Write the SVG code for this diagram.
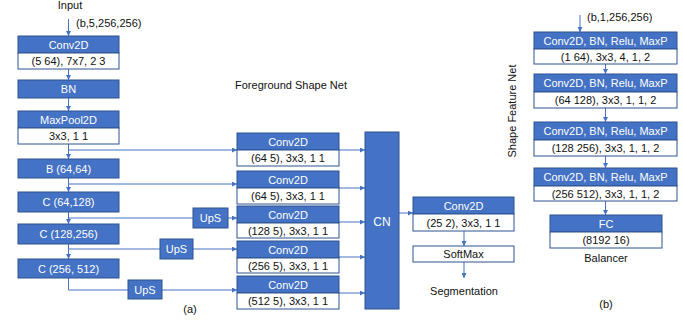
<svg xmlns="http://www.w3.org/2000/svg" width="683" height="321" viewBox="0 0 683 321">
<style>
text{font-family:"Liberation Sans",Arial,sans-serif;font-size:11px;text-anchor:middle}
.h{fill:#4472C4;stroke:#2F528F;stroke-width:1}
.w{fill:#fff;stroke:#2F528F;stroke-width:1}
.ht{fill:#fff}
.bt{fill:#111}
.c{fill:none;stroke:#4472C4;stroke-width:1}
</style>
<defs>
<marker id="a" viewBox="0 0 6 6" refX="6" refY="3" markerWidth="5" markerHeight="5" orient="auto" markerUnits="userSpaceOnUse">
<path d="M0,0 L6,3 L0,6 z" fill="#4472C4"/>
</marker>
</defs>
<rect width="683" height="321" fill="#fff"/>
<g id="connectors">
<path class="c" d="M68.5,19 V36" marker-end="url(#a)"/>
<path class="c" d="M68.5,69 V80" marker-end="url(#a)"/>
<path class="c" d="M68.5,98 V111" marker-end="url(#a)"/>
<path class="c" d="M68.5,144 V159" marker-end="url(#a)"/>
<path class="c" d="M68.5,178 V192" marker-end="url(#a)"/>
<path class="c" d="M68.5,212 V224" marker-end="url(#a)"/>
<path class="c" d="M68.5,244 V259" marker-end="url(#a)"/>
<path class="c" d="M68.5,278 V290 H128"/>
<path class="c" d="M68.5,150 H237" marker-end="url(#a)"/>
<path class="c" d="M68.5,184 H237" marker-end="url(#a)"/>
<path class="c" d="M68.5,218 H193"/>
<path class="c" d="M68.5,249 H160"/>
<path class="c" d="M228,218 H237" marker-end="url(#a)"/>
<path class="c" d="M193,249 H237" marker-end="url(#a)"/>
<path class="c" d="M162,290 H237" marker-end="url(#a)"/>
<path class="c" d="M339,150 H365" marker-end="url(#a)"/>
<path class="c" d="M339,188 H365" marker-end="url(#a)"/>
<path class="c" d="M339,222 H365" marker-end="url(#a)"/>
<path class="c" d="M339,257 H365" marker-end="url(#a)"/>
<path class="c" d="M339,293 H365" marker-end="url(#a)"/>
<path class="c" d="M399,213 H413" marker-end="url(#a)"/>
<path class="c" d="M464,231 V246" marker-end="url(#a)"/>
<path class="c" d="M464,262 V278" marker-end="url(#a)"/>
<path class="c" d="M580,15 V32" marker-end="url(#a)"/>
<path class="c" d="M605.5,64 V74" marker-end="url(#a)"/>
<path class="c" d="M605.5,108 V122" marker-end="url(#a)"/>
<path class="c" d="M605.5,156 V168" marker-end="url(#a)"/>
<path class="c" d="M605.5,201 V215" marker-end="url(#a)"/>
</g>
<g id="labels">
<text class="bt" x="70" y="9">Input</text>
<text class="bt" x="76" y="27" style="text-anchor:start">(b,5,256,256)</text>
<text class="bt" x="291" y="89">Foreground Shape Net</text>
<text class="bt" x="190" y="313">(a)</text>
<text class="bt" x="464" y="295">Segmentation</text>
<text class="bt" x="587" y="21" style="text-anchor:start">(b,1,256,256)</text>
<text class="bt" x="606" y="262">Balancer</text>
<text class="bt" x="606" y="308">(b)</text>
<text class="bt" transform="translate(516,111) rotate(-90)">Shape Feature Net</text>
</g>
<g id="conv1"><rect class="h" x="18" y="36" width="101" height="17"/><rect class="w" x="18" y="53" width="101" height="16"/><text class="ht" x="68.5" y="48.5">Conv2D</text><text class="bt" x="68.5" y="65">(5 64), 7x7, 2 3</text></g>
<g id="bn"><rect class="h" x="18" y="80" width="101" height="18"/><text class="ht" x="68.5" y="93">BN</text></g>
<g id="maxpool"><rect class="h" x="18" y="111" width="101" height="17"/><rect class="w" x="18" y="128" width="101" height="16"/><text class="ht" x="68.5" y="123.5">MaxPool2D</text><text class="bt" x="68.5" y="140">3x3, 1 1</text></g>
<g id="b64"><rect class="h" x="18" y="159" width="101" height="19"/><text class="ht" x="68.5" y="172.5">B (64,64)</text></g>
<g id="c128"><rect class="h" x="18" y="192" width="101" height="20"/><text class="ht" x="68.5" y="206">C (64,128)</text></g>
<g id="c256"><rect class="h" x="18" y="224" width="101" height="20"/><text class="ht" x="68.5" y="238">C (128,256)</text></g>
<g id="c512"><rect class="h" x="18" y="259" width="101" height="19"/><text class="ht" x="68.5" y="272.5">C (256, 512)</text></g>
<g id="ups1"><rect class="h" x="193" y="208" width="35" height="20"/><text class="ht" x="210.5" y="222">UpS</text></g>
<g id="ups2"><rect class="h" x="160" y="239" width="33" height="20"/><text class="ht" x="176.5" y="253">UpS</text></g>
<g id="ups3"><rect class="h" x="128" y="280" width="34" height="19"/><text class="ht" x="145" y="293.5">UpS</text></g>
<g id="fconv1"><rect class="h" x="237" y="133" width="102" height="17"/><rect class="w" x="237" y="150" width="102" height="16"/><text class="ht" x="288" y="145.5">Conv2D</text><text class="bt" x="288" y="162">(64 5), 3x3, 1 1</text></g>
<g id="fconv2"><rect class="h" x="237" y="171" width="102" height="17"/><rect class="w" x="237" y="188" width="102" height="16"/><text class="ht" x="288" y="183.5">Conv2D</text><text class="bt" x="288" y="200">(64 5), 3x3, 1 1</text></g>
<g id="fconv3"><rect class="h" x="237" y="206" width="102" height="17"/><rect class="w" x="237" y="223" width="102" height="15"/><text class="ht" x="288" y="218.5">Conv2D</text><text class="bt" x="288" y="234.5">(128 5), 3x3, 1 1</text></g>
<g id="fconv4"><rect class="h" x="237" y="241" width="102" height="17"/><rect class="w" x="237" y="258" width="102" height="15"/><text class="ht" x="288" y="253.5">Conv2D</text><text class="bt" x="288" y="269.5">(256 5), 3x3, 1 1</text></g>
<g id="fconv5"><rect class="h" x="237" y="276" width="102" height="17"/><rect class="w" x="237" y="293" width="102" height="16"/><text class="ht" x="288" y="288.5">Conv2D</text><text class="bt" x="288" y="305">(512 5), 3x3, 1 1</text></g>
<g id="cn"><rect class="h" x="365" y="132" width="34" height="177"/><text class="ht" x="382" y="226" style="font-size:12px">CN</text></g>
<g id="segconv"><rect class="h" x="413" y="197" width="101" height="17"/><rect class="w" x="413" y="214" width="101" height="17"/><text class="ht" x="463.5" y="209.5">Conv2D</text><text class="bt" x="463.5" y="226.5">(25 2), 3x3, 1 1</text></g>
<g id="softmax"><rect class="w" x="413" y="246" width="101" height="16"/><text class="bt" x="463.5" y="258">SoftMax</text></g>
<g id="s1"><rect class="h" x="534" y="32" width="143" height="17"/><rect class="w" x="534" y="49" width="143" height="15"/><text class="ht" x="605.5" y="44.5">Conv2D, BN, Relu, MaxP</text><text class="bt" x="605.5" y="60.5">(1 64), 3x3, 4, 1, 2</text></g>
<g id="s2"><rect class="h" x="534" y="74" width="143" height="18"/><rect class="w" x="534" y="92" width="143" height="16"/><text class="ht" x="605.5" y="87">Conv2D, BN, Relu, MaxP</text><text class="bt" x="605.5" y="104">(64 128), 3x3, 1, 1, 2</text></g>
<g id="s3"><rect class="h" x="534" y="122" width="143" height="18"/><rect class="w" x="534" y="140" width="143" height="16"/><text class="ht" x="605.5" y="135">Conv2D, BN, Relu, MaxP</text><text class="bt" x="605.5" y="152">(128 256), 3x3, 1, 1, 2</text></g>
<g id="s4"><rect class="h" x="534" y="168" width="143" height="18"/><rect class="w" x="534" y="186" width="143" height="15"/><text class="ht" x="605.5" y="181">Conv2D, BN, Relu, MaxP</text><text class="bt" x="605.5" y="197.5">(256 512), 3x3, 1, 1, 2</text></g>
<g id="fc"><rect class="h" x="550" y="215" width="112" height="17"/><rect class="w" x="550" y="232" width="112" height="16"/><text class="ht" x="606" y="227.5">FC</text><text class="bt" x="606" y="244">(8192 16)</text></g>
</svg>
